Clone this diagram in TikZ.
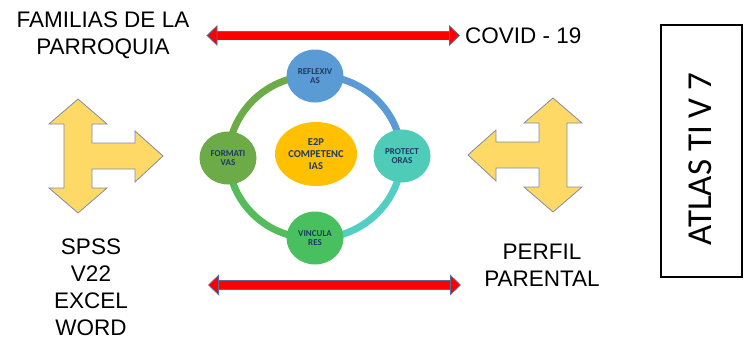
\documentclass[tikz,border=0pt]{standalone}
\usepackage{fontspec}
\setmainfont{Liberation Sans}
\newfontfamily\carlito{Carlito}
\usetikzlibrary{positioning}
\usetikzlibrary{arrows.meta, shapes.geometric, backgrounds}

\definecolor{ringblue}{HTML}{5B9BD5}
\definecolor{ringteal}{HTML}{4FCCB8}
\definecolor{ringgreen}{HTML}{48C05F}
\definecolor{ringolive}{HTML}{6CAB47}
\definecolor{arcteal}{HTML}{52CFC2}
\definecolor{arcgreen}{HTML}{55BC5C}
\definecolor{coregold}{HTML}{FFC000}
\definecolor{navytext}{HTML}{1F3864}
\definecolor{arrowgold}{HTML}{FFD966}
\definecolor{goldborder}{HTML}{7F8CA8}
\definecolor{redborder}{HTML}{5B6A9A}

\begin{document}
\begin{tikzpicture}[x=1pt, y=-1pt]
 \tikzset{label text/.style={
 		inner sep=0pt,
 		align=center,
 		font=\fontsize{22.5}{27}\selectfont
 	},
 	ring node/.style={
 		ellipse,
 		minimum width=57pt, minimum height=53pt,
 		inner sep=0pt,
 		align=center,
 		text=navytext,
 		font=\carlito\bfseries\fontsize{9}{9.5}\selectfont
 	},
 	center node/.style={
 		ring node,
 		fill=coregold,
 		minimum width=82pt, minimum height=64pt,
 		font=\carlito\bfseries\fontsize{10.5}{12}\selectfont
 	},
 	ring arc/.style={line width=7pt},
 	red arrow/.style={
 		red, line width=8pt,
 		{Triangle[length=11pt, width=21pt, fill=red, color=redborder, line width=0.8pt]}-{Triangle[length=11pt, width=21pt, fill=red, color=redborder, line width=0.8pt]},
 		preaction={draw=redborder, line width=9.6pt, -, shorten <=10pt, shorten >=10pt}
 	},
 	gold arrow/.style={fill=arrowgold, draw=goldborder, line width=0.8pt, line join=miter},
 	threeway/.pic={
 		\draw[gold arrow] (0,-57) -- (29,-32) -- (14,-32) -- (14,-13) -- (57,-13)
 			-- (57,-25) -- (85,0) -- (57,26) -- (57,13) -- (14,13) -- (14,32)
 			-- (29,32) -- (0,57) -- (-29,32) -- (-14,32) -- (-14,-32) -- (-29,-32) -- cycle;
 	}
 }
 \useasboundingbox (0,0) rectangle (747,338);

 % texts
 \node[label text] (familias) at (103,35.5) {FAMILIAS DE LA\\PARROQUIA};
 \node[label text, anchor=west] (covid) at (465,35.5) {COVID - 19};
 \node[label text] (software) at (91,287.5) {SPSS\\V22\\EXCEL\\WORD};
 \node[label text] (perfil) at (542,265) {PERFIL\\PARENTAL};

 % red arrows
 \coordinate (topL) at ([xshift=17pt]familias.east);
 \coordinate (topR) at ([xshift=-5pt]covid.west);
 \draw[red arrow] (topL) -- (topR);
 \coordinate (botL) at (208,285);
 \coordinate (botR) at (461,285);
 \draw[red arrow] (botL) -- (botR);

 % yellow arrows
 \pic at (78,156) {threeway};
 \pic[xscale=-1] at (553,155) {threeway};

 % ring
 \node[center node] (e2p) at (316,154) {E2P\\COMPETENC\\IAS};
 \node[ring node, fill=ringblue] (reflexivas) at (315,76) {REFLEXIV\\AS};
 \node[ring node, fill=ringteal] (protectoras) at (402,156) {PROTECT\\ORAS};
 \node[ring node, fill=ringgreen] (vinculares) at (315,238) {VINCULA\\RES};
 \node[ring node, fill=ringolive] (formativas) at (228,158) {FORMATI\\VAS};
 \begin{scope}[on background layer]
 	\draw[ring arc, ringblue] (reflexivas.center) to[bend left=45] (protectoras.center);
 	\draw[ring arc, arcteal] (protectoras.center) to[bend left=45] (vinculares.center);
 	\draw[ring arc, arcgreen] (vinculares.center) to[bend left=45] (formativas.center);
 	\draw[ring arc, ringolive] (formativas.center) to[bend left=45] (reflexivas.center);
 \end{scope}

 % atlas box
 \node[draw, line width=1.2pt, minimum width=81pt, minimum height=252pt, inner sep=0pt] (atlasbox) at (701.5,151) {};
 \node[rotate=90, inner sep=0pt, font=\carlito\fontsize{35}{35}\selectfont] (atlas) at (700,159) {ATLAS TI V 7};
\end{tikzpicture}
\end{document}
